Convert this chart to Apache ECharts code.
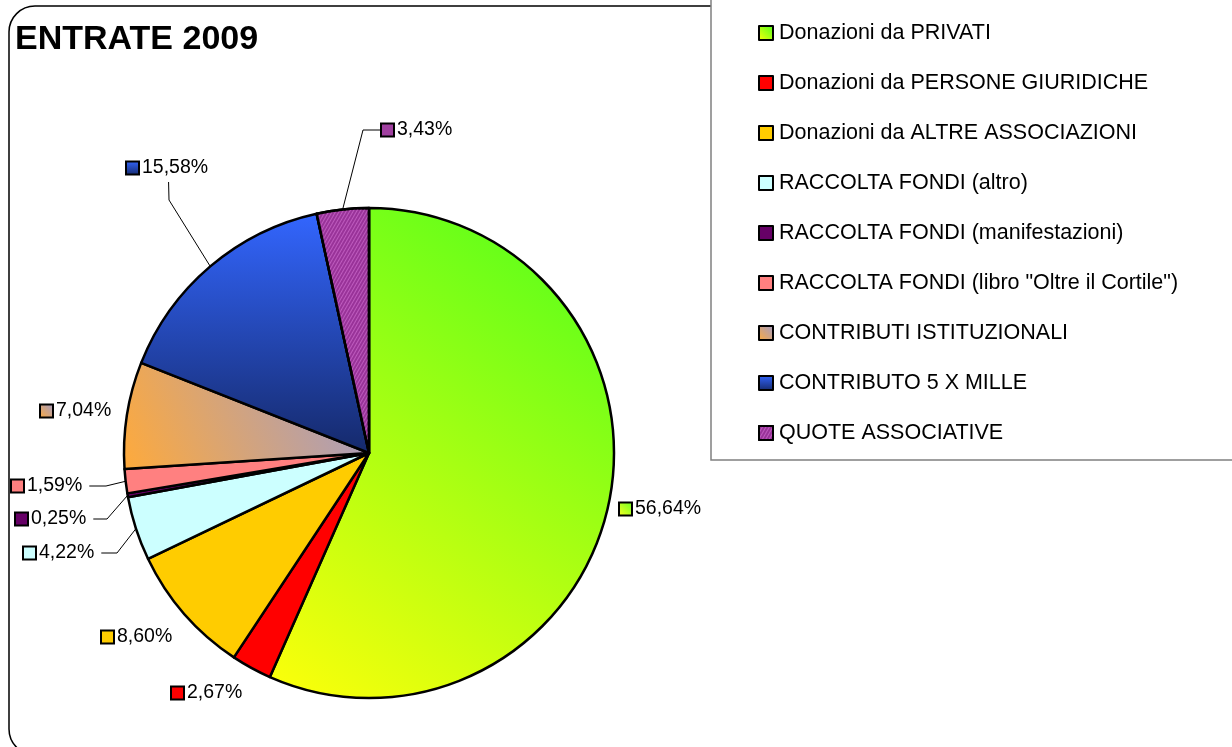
<!DOCTYPE html>
<html>
<head>
<meta charset="utf-8">
<script src="https://cdn.jsdelivr.net/npm/echarts@6/dist/echarts.min.js"></script>
<style>
html,body{margin:0;padding:0;background:#fff;}
#chart{width:1232px;height:747px;}
</style>
</head>
<body>
<div id="chart"></div>
<script>
// ---- data ----
const title = 'ENTRATE 2009';
const categories = [
  'Donazioni da PRIVATI',
  'Donazioni da PERSONE GIURIDICHE',
  'Donazioni da ALTRE ASSOCIAZIONI',
  'RACCOLTA FONDI (altro)',
  'RACCOLTA FONDI (manifestazioni)',
  'RACCOLTA FONDI (libro "Oltre il Cortile")',
  'CONTRIBUTI ISTITUZIONALI',
  'CONTRIBUTO 5 X MILLE',
  'QUOTE ASSOCIATIVE'
];
const values = [56.64, 2.67, 8.60, 4.22, 0.25, 1.59, 7.04, 15.58, 3.43];

// ---- styles / layout ----
const FONT = '"Liberation Sans", Arial, Helvetica, sans-serif';
const CENTER = [369, 453];
const RADIUS = 245;
const grad = (x, y, x2, y2, c0, c1) => new echarts.graphic.LinearGradient(x, y, x2, y2, [{offset: 0, color: c0}, {offset: 1, color: c1}]);
const fills = [
  grad(1, 0, 0, 1, '#4cff1c', '#ffff0a'),
  '#ff0000',
  '#ffcc00',
  '#ccffff',
  '#660066',
  '#ff8080',
  grad(1, 0, 0, 1, '#9f9ccc', '#ffaa3a'),
  grad(0, 0, 0, 1, '#3366ff', '#15296a'),
  '#993399'
];
const boxColors = [
  grad(1, 0, 0, 1, '#66ff22', '#ffff22'),
  '#ff0000', '#ffcc00', '#ccffff', '#660066', '#ff8080',
  grad(1, 0, 0, 1, '#9f9ccc', '#ffaa3a'),
  grad(0, 0, 0, 1, '#3366ff', '#15296a'),
  '#a040a0'
];
const LABEL_LAYOUT = [
  {x: 620, y: 509},
  {x: 172, y: 693},
  {x: 102, y: 637},
  {x: 24, y: 553, line: 'right', bend: [117, 553]},
  {x: 16, y: 519, line: 'right', bend: [107, 519]},
  {x: 12, y: 486, line: 'right', bend: [106, 486]},
  {x: 41, y: 411},
  {x: 127, y: 168, line: 'bottom', bend: [169, 200]},
  {x: 382, y: 130, line: 'left', bend: [363, 130]}
];

const total = values.reduce((a, b) => a + b, 0);
function edgePoint(i) {
  let before = 0;
  for (let k = 0; k < i; k++) before += values[k];
  const mid = (before + values[i] / 2) / total * 2 * Math.PI;
  return [CENTER[0] + RADIUS * Math.sin(mid), CENTER[1] - RADIUS * Math.cos(mid)];
}
const fmt = v => v.toFixed(2).replace('.', ',') + '%';

const rich = {};
boxColors.forEach((c, i) => {
  rich['b' + i] = {width: 11, height: 11, backgroundColor: c, borderColor: '#000', borderWidth: 2};
});
rich.t = {fontSize: 19.5, fontFamily: FONT, color: '#000', padding: [0, 0, 0, 4]};

const data = categories.map((name, i) => ({
  name: name,
  value: values[i],
  itemStyle: i === 8 ? {
    color: fills[i],
    decal: {symbol: 'rect', symbolSize: 1, color: 'rgba(235,140,235,0.45)', dashArrayX: [1, 0], dashArrayY: [1, 2], rotation: -Math.PI / 3}
  } : {color: fills[i]},
  labelLine: {show: !!LABEL_LAYOUT[i].line}
}));

const chart = echarts.init(document.getElementById('chart'), null, {renderer: 'canvas'});
chart.setOption({
  backgroundColor: '#ffffff',
  animation: false,
  title: {
    text: title, left: 10, top: 18,
    textStyle: {fontFamily: FONT, fontSize: 34, fontWeight: 'bold', color: '#000'}
  },
  legend: {
    orient: 'vertical', left: 753, top: 17,
    icon: 'rect', itemWidth: 14, itemHeight: 14, itemGap: 28,
    itemStyle: {borderColor: '#000', borderWidth: 2},
    textStyle: {fontFamily: FONT, fontSize: 21.5, color: '#000', lineHeight: 22, padding: [0, 0, 0, 1]},
    data: categories
  },
  graphic: [
    {type: 'rect', z: -1, shape: {x: 9, y: 6, width: 1241, height: 749, r: 26}, style: {fill: 'none', stroke: '#000', lineWidth: 1.5}},
    {type: 'rect', z: -1, shape: {x: 711, y: -10, width: 600, height: 470}, style: {fill: '#fff', stroke: '#808080', lineWidth: 1.5}}
  ],
  series: [{
    type: 'pie',
    center: CENTER,
    radius: RADIUS,
    startAngle: 90,
    clockwise: true,
    avoidLabelOverlap: false,
    itemStyle: {borderColor: '#000', borderWidth: 2.5},
    label: {
      show: true, position: 'outside',
      formatter: p => '{b' + p.dataIndex + '|}{t|' + fmt(p.value) + '}',
      rich: rich
    },
    labelLine: {length: 8, length2: 8, lineStyle: {color: '#000', width: 1}},
    labelLayout: function (params) {
      const L = LABEL_LAYOUT[params.dataIndex];
      const res = {x: L.x, y: L.y, align: 'left', verticalAlign: 'middle'};
      if (L.line) {
        const w = params.labelRect.width, h = params.labelRect.height;
        let end;
        if (L.line === 'right') end = [L.x + w + 5, L.y];
        else if (L.line === 'left') end = [L.x - 2, L.y];
        else end = [L.x + w / 2, L.y + h / 2 + 4];
        res.labelLinePoints = [edgePoint(params.dataIndex), L.bend, end];
      }
      return res;
    },
    emphasis: {disabled: true},
    data: data
  }]
});
</script>
</body>
</html>
